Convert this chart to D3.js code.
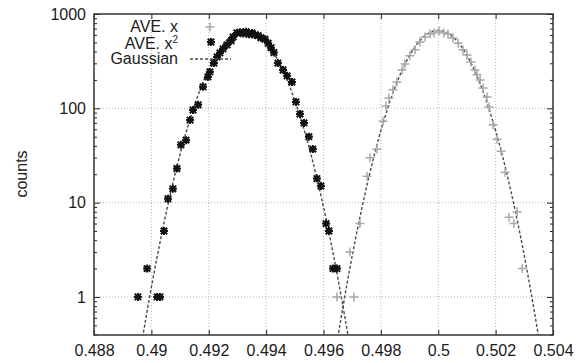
<!DOCTYPE html>
<html>
<head>
<meta charset="utf-8">
<script src="https://cdn.jsdelivr.net/npm/d3@7"></script>
<style>
  body { margin: 0; background: #fff; }
  text { font-family: "Liberation Sans", Arial, Helvetica, sans-serif; }
</style>
</head>
<body>
<div id="chart"></div>
<script>

// AVE. x^2 (black stars), left peak
const x2Pos = [0.48953, 0.48985, 0.49020, 0.49030, 0.49044, 0.49058, 0.49075, 0.49089, 0.49103, 0.49121,
               0.49135, 0.49145, 0.49163, 0.49180, 0.49197, 0.49204, 0.49218, 0.49229, 0.49239, 0.49250,
               0.49264, 0.49278, 0.49285, 0.49298, 0.49309, 0.49319, 0.49330, 0.49340, 0.49351, 0.49361,
               0.49372, 0.49382, 0.49396, 0.49407, 0.49417, 0.49427, 0.49441, 0.49459, 0.49473, 0.49490,
               0.49504, 0.49518, 0.49532, 0.49549, 0.49563, 0.49577, 0.49591, 0.49609, 0.49619, 0.49633, 0.49647];
const x2Counts = [1, 2, 1, 1, 5, 11, 14, 23, 41, 46,
                  75, 96, 109, 169, 215, 243, 302, 351, 387, 426,
                  470, 519, 571, 630, 640, 620, 650, 610, 630, 600,
                  590, 560, 540, 490, 440, 390, 302, 255, 221, 190,
                  117, 87, 70, 50, 37, 18, 15, 6, 5, 2, 2];

// AVE. x (grey crosses), right peak
const xPos = [0.49647, 0.49692, 0.49706, 0.49727, 0.49752, 0.49762, 0.49786, 0.49807, 0.49818, 0.49828,
              0.49842, 0.49856, 0.49874, 0.49884, 0.49901, 0.49919, 0.49936, 0.49954, 0.49971, 0.49985,
              0.50003, 0.50020, 0.50034, 0.50051, 0.50069, 0.50086, 0.50100, 0.50114, 0.50128, 0.50135,
              0.50146, 0.50156, 0.50170, 0.50177, 0.50191, 0.50205, 0.50219, 0.50233, 0.50247, 0.50264,
              0.50275, 0.50293];
const xCounts = [1, 3, 1, 6, 19, 30, 37, 73, 106, 129,
                 157, 190, 255, 295, 360, 417, 506, 571, 615, 630,
                 661, 630, 615, 557, 490, 417, 368, 309, 255, 227,
                 200, 164, 132, 103, 67, 47, 35, 21, 7, 6,
                 8, 2];

// gaussian fits (amplitude, mean, sigma)
const fitAmp = [680, 670];
const fitMean = [0.49328, 0.5];
const fitSigma = [0.000925, 0.000904];

const xTicks = [0.488, 0.49, 0.492, 0.494, 0.496, 0.498, 0.5, 0.502, 0.504];
const xTickLabels = ["0.488", "0.49", "0.492", "0.494", "0.496", "0.498", "0.5", "0.502", "0.504"];
const yTicks = [1, 10, 100, 1000];
const yTickLabels = ["1", "10", "100", "1000"];

const legendLabels = ["AVE. x", "AVE. x", "Gaussian"];

drawChart();

function drawChart(){

    const W = 585, H = 363;
    const margin = {top: 14, right: 32, bottom: 28, left: 94};
    const width = W - margin.left - margin.right,
          height = H - margin.top - margin.bottom;

    const svg = d3.select("#chart")
        .append("svg")
        .attr("width", W)
        .attr("height", H);

    const g = svg.append("g")
        .attr("transform", `translate(${margin.left},${margin.top})`);

    const xScale = d3.scaleLinear().domain([0.488, 0.504]).range([0, width]);
    const yScale = d3.scaleLog().domain([0.395, 1000]).range([height, 0]);

    g.append("clipPath").attr("id", "plotclip")
        .append("rect").attr("width", width).attr("height", height);

    // grid
    g.selectAll(".vgrid")
        .data(xTicks.slice(1, -1))
        .enter().append("line")
        .attr("x1", d => xScale(d)).attr("x2", d => xScale(d))
        .attr("y1", 0).attr("y2", height)
        .attr("stroke", "#b8b8b8").attr("stroke-width", 1)
        .attr("stroke-dasharray", "1,2");
    g.selectAll(".hgrid")
        .data(yTicks.slice(0, -1))
        .enter().append("line")
        .attr("x1", 0).attr("x2", width)
        .attr("y1", d => yScale(d)).attr("y2", d => yScale(d))
        .attr("stroke", "#b8b8b8").attr("stroke-width", 1)
        .attr("stroke-dasharray", "1,2");

    // minor log ticks
    const minors = [];
    [0.1, 1, 10, 100].forEach(dec => {
        for (let k = 2; k <= 9; k++) {
            const v = k * dec;
            if (v >= 0.395 && v < 1000) minors.push(v);
        }
    });

    const axisStyle = sel => {
        sel.select(".domain").remove();
        sel.selectAll("line").attr("stroke", "#222").attr("stroke-width", 1);
        sel.selectAll("text")
            .attr("font-size", 16)
            .attr("fill", "#1a1a1a");
    };

    g.append("g")
        .attr("transform", `translate(0,${height})`)
        .call(d3.axisBottom(xScale).tickValues(xTicks).tickSizeInner(-5).tickSizeOuter(0)
            .tickPadding(10).tickFormat((d, i) => xTickLabels[i]))
        .call(axisStyle);
    g.append("g")
        .call(d3.axisTop(xScale).tickValues(xTicks).tickSizeInner(-5).tickSizeOuter(0).tickFormat(""))
        .call(axisStyle);
    g.append("g")
        .call(d3.axisLeft(yScale).tickValues(yTicks).tickSizeInner(-6).tickSizeOuter(0)
            .tickPadding(8).tickFormat((d, i) => yTickLabels[i]))
        .call(axisStyle);
    g.append("g")
        .call(d3.axisLeft(yScale).tickValues(minors).tickSizeInner(-3).tickSizeOuter(0).tickFormat(""))
        .call(axisStyle);
    g.append("g")
        .attr("transform", `translate(${width},0)`)
        .call(d3.axisRight(yScale).tickValues(yTicks).tickSizeInner(-6).tickSizeOuter(0).tickFormat(""))
        .call(axisStyle);
    g.append("g")
        .attr("transform", `translate(${width},0)`)
        .call(d3.axisRight(yScale).tickValues(minors).tickSizeInner(-3).tickSizeOuter(0).tickFormat(""))
        .call(axisStyle);

    // gaussian fit curves
    const line = d3.line()
        .x(d => xScale(d[0]))
        .y(d => yScale(Math.max(d[1], 0.2)));
    const xs = d3.range(0, width + 0.5, 0.5).map(px => xScale.invert(px));
    fitAmp.forEach((A, i) => {
        const pts = xs.map(v => [v, A * Math.exp(-Math.pow(v - fitMean[i], 2) / (2 * fitSigma[i] * fitSigma[i]))]);
        g.append("path")
            .datum(pts)
            .attr("clip-path", "url(#plotclip)")
            .attr("fill", "none")
            .attr("stroke", "#4a4a4a")
            .attr("stroke-width", 1.4)
            .attr("stroke-dasharray", "3,2")
            .attr("d", line);
    });

    // markers
    const plusPath = r => `M${-r},0H${r}M0,${-r}V${r}`;
    const starPath = r => `M${-r},0H${r}M0,${-r}V${r}M${-r*0.8},${-r*0.8}L${r*0.8},${r*0.8}M${-r*0.8},${r*0.8}L${r*0.8},${-r*0.8}`;

    const xData = xPos.map((p, i) => ({x: p, c: xCounts[i]}));
    const x2Data = x2Pos.map((p, i) => ({x: p, c: x2Counts[i]}));

    g.selectAll(".ptx")
        .data(xData)
        .enter().append("path")
        .attr("transform", d => `translate(${xScale(d.x)},${yScale(d.c)})`)
        .attr("d", plusPath(4.5))
        .attr("stroke", "#a8a8a8")
        .attr("stroke-width", 1.5)
        .attr("fill", "none");

    g.selectAll(".ptx2")
        .data(x2Data)
        .enter().append("path")
        .attr("transform", d => `translate(${xScale(d.x)},${yScale(d.c)})`)
        .attr("d", starPath(4))
        .attr("stroke", "#111")
        .attr("stroke-width", 2)
        .attr("fill", "none");

    // border
    g.append("rect")
        .attr("width", width).attr("height", height)
        .attr("fill", "none")
        .attr("stroke", "#333")
        .attr("stroke-width", 1.5);

    // y label
    svg.append("text")
        .attr("transform", "translate(27,174) rotate(-90)")
        .attr("text-anchor", "middle")
        .attr("font-size", 16)
        .attr("fill", "#1a1a1a")
        .text("counts");

    // legend
    const legend = svg.append("g");
    const rowY = [32, 49, 64];
    legendLabels.forEach((lab, i) => {
        const t = legend.append("text")
            .attr("x", 178).attr("y", rowY[i])
            .attr("text-anchor", "end")
            .attr("font-size", i === 1 ? 16 : 16)
            .attr("fill", "#1a1a1a")
            .text(lab);
        if (i === 1) {
            t.append("tspan").attr("font-size", 10).attr("dy", -6).text("2");
        }
    });
    legend.append("path")
        .attr("transform", "translate(210,27)")
        .attr("d", plusPath(4.5))
        .attr("stroke", "#a8a8a8").attr("stroke-width", 1.5).attr("fill", "none");
    legend.append("path")
        .attr("transform", "translate(211,42)")
        .attr("d", starPath(4))
        .attr("stroke", "#111").attr("stroke-width", 2).attr("fill", "none");
    legend.append("line")
        .attr("x1", 190).attr("x2", 231).attr("y1", 59).attr("y2", 59)
        .attr("stroke", "#4a4a4a").attr("stroke-width", 1.4)
        .attr("stroke-dasharray", "3,2");
}
</script>
</body>
</html>
